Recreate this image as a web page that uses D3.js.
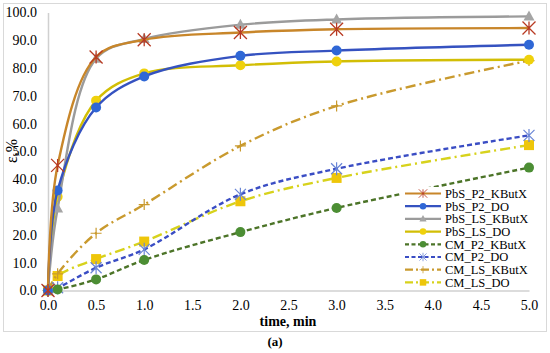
<!DOCTYPE html>
<html>
<head>
<meta charset="utf-8">
<script src="https://cdn.jsdelivr.net/npm/d3@7"></script>
<style>
  body { margin: 0; background: #fff; }
</style>
</head>
<body>
<svg width="550" height="353"></svg>
<script>
// time points, min
var times = [0, 0.1, 0.5, 1, 2, 3, 5];

// recovery values, %
var pbsP2KButX = [0, 45, 84, 90.2, 92.8, 94, 94.4];
var pbsP2DO    = [0, 36, 65.8, 77, 84.4, 86.3, 88.4];
var pbsLSKButX = [0, 29.5, 83.4, 90.5, 95.6, 97.5, 98.6];
var pbsLSDO    = [0, 33.7, 68.3, 78.1, 81, 82.4, 83];
var cmP2KButX  = [0, 0.4, 4, 11, 21, 29.7, 44.2];
var cmP2DO     = [0, 1, 8.2, 14.8, 34.6, 43.8, 55.8];
var cmLSKButX  = [0, 6, 20.6, 30.9, 52, 66.4, 82.7];
var cmLSDO     = [0, 5.2, 11.3, 17.6, 32.1, 40.5, 52.3];

var seriesNames = ["PbS_P2_KButX", "PbS_P2_DO", "PbS_LS_KButX", "PbS_LS_DO",
                   "CM_P2_KButX", "CM_P2_DO", "CM_LS_KButX", "CM_LS_DO"];

var xTicks = [0, 0.5, 1, 1.5, 2, 2.5, 3, 3.5, 4, 4.5, 5];
var yTicks = [0, 10, 20, 30, 40, 50, 60, 70, 80, 90, 100];

var serif = "Liberation Serif";

// styles for each series
var styles = [
  { values: pbsP2KButX, line: "#C8862A", dash: null, marker: "asterisk", mcol: "#B83A22" },
  { values: pbsP2DO,    line: "#3552C0", dash: null, marker: "circle",   mcol: "#2F67D6" },
  { values: pbsLSKButX, line: "#9B9B9B", dash: null, marker: "triangle", mcol: "#A5A5A5" },
  { values: pbsLSDO,    line: "#D2BE05", dash: null, marker: "circle",   mcol: "#EFD10C" },
  { values: cmP2KButX,  line: "#4C7428", dash: "5,3", marker: "circle",  mcol: "#4C8E34" },
  { values: cmP2DO,     line: "#3A4DC4", dash: "5,3", marker: "star",    mcol: "#6A86D6" },
  { values: cmLSKButX,  line: "#C99A2E", dash: "10,4,2,4", marker: "plus", mcol: "#C99A2E" },
  { values: cmLSDO,     line: "#D7D21C", dash: "10,4,2,4", marker: "square", mcol: "#EEC60A" }
];

var svg = d3.select("svg").attr("font-family", serif);

// outer frame
svg.append("rect")
  .attr("x", 3.5).attr("y", 3.5)
  .attr("width", 543).attr("height", 328)
  .attr("fill", "#fff")
  .attr("stroke", "#D9D9D9");

var margin = { left: 48, right: 529, top: 12.5, bottom: 290.5 };

var x = d3.scaleLinear().domain([0, 5]).range([margin.left, margin.right]);
var y = d3.scaleLinear().domain([0, 100]).range([margin.bottom, margin.top]);

// axes
var xAxis = d3.axisBottom(x).tickValues(xTicks).tickSize(0).tickPadding(10)
  .tickFormat(d3.format(".1f"));
var yAxis = d3.axisLeft(y).tickValues(yTicks).tickSize(0).tickPadding(11)
  .tickFormat(d3.format(".1f"));

var gx = svg.append("g")
  .attr("transform", "translate(0," + margin.bottom + ")")
  .call(xAxis);
var gy = svg.append("g")
  .attr("transform", "translate(" + margin.left + ",0)")
  .call(yAxis);

[gx, gy].forEach(function (g) {
  g.attr("font-family", serif).attr("font-size", 14);
  g.select(".domain").attr("stroke", "#D0D0D0").attr("stroke-width", 1.5);
  g.selectAll("text").attr("fill", "#000");
});

// axis titles
svg.append("text")
  .attr("x", 288)
  .attr("y", 326)
  .attr("text-anchor", "middle")
  .attr("font-size", 14)
  .attr("font-weight", "bold")
  .text("time, min");

svg.append("text")
  .attr("transform", "translate(17,151) rotate(-90)")
  .attr("text-anchor", "middle")
  .attr("font-size", 16)
  .text("ε,%");

svg.append("text")
  .attr("x", 275)
  .attr("y", 346)
  .attr("text-anchor", "middle")
  .attr("font-size", 13)
  .attr("font-weight", "bold")
  .text("(a)");

var line = d3.line()
  .x(function (d) { return x(d[0]); })
  .y(function (d) { return y(d[1]); })
  .curve(d3.curveCatmullRom.alpha(0.5));

function drawMarker(g, type, col, cx, cy) {
  if (type === "circle") {
    g.append("circle").attr("cx", cx).attr("cy", cy).attr("r", 5).attr("fill", col);
  } else if (type === "square") {
    g.append("rect").attr("x", cx - 5).attr("y", cy - 5)
      .attr("width", 10).attr("height", 10).attr("fill", col);
  } else if (type === "triangle") {
    g.append("path")
      .attr("d", "M" + cx + "," + (cy - 6) + "L" + (cx + 5.5) + "," + (cy + 4) + "L" + (cx - 5.5) + "," + (cy + 4) + "Z")
      .attr("fill", col);
  } else if (type === "asterisk") {
    var r = 6.5;
    g.append("path")
      .attr("d", "M" + (cx - r) + "," + (cy - r) + "L" + (cx + r) + "," + (cy + r) +
        "M" + (cx - r) + "," + (cy + r) + "L" + (cx + r) + "," + (cy - r) +
        "M" + cx + "," + (cy - r) + "L" + cx + "," + (cy + r))
      .attr("stroke", col).attr("stroke-width", 1.3).attr("fill", "none");
  } else if (type === "star") {
    var s = 5.5;
    g.append("path")
      .attr("d", "M" + (cx - s) + "," + (cy - s) + "L" + (cx + s) + "," + (cy + s) +
        "M" + (cx - s) + "," + (cy + s) + "L" + (cx + s) + "," + (cy - s) +
        "M" + cx + "," + (cy - s - 1) + "L" + cx + "," + (cy + s + 1))
      .attr("stroke", col).attr("stroke-width", 1.2).attr("fill", "none");
  } else if (type === "plus") {
    var p = 5.5;
    g.append("path")
      .attr("d", "M" + (cx - p) + "," + cy + "L" + (cx + p) + "," + cy +
        "M" + cx + "," + (cy - p) + "L" + cx + "," + (cy + p))
      .attr("stroke", col).attr("stroke-width", 1.2).attr("fill", "none");
  }
}

// draw series: lines first (back to front), then markers
styles.slice().reverse().forEach(function (s) {
  var pts = times.map(function (t, i) { return [t, s.values[i]]; });
  var g = svg.append("g");
  g.append("path")
    .attr("d", line(pts))
    .attr("fill", "none")
    .attr("stroke", s.line)
    .attr("stroke-width", 2.4)
    .attr("stroke-dasharray", s.dash);
  pts.forEach(function (p) {
    drawMarker(g, s.marker, s.mcol, x(p[0]), y(p[1]));
  });
});

// legend
var legend = svg.append("g");
legend.append("rect")
  .attr("x", 401).attr("y", 187)
  .attr("width", 140).attr("height", 101)
  .attr("fill", "#fff");

seriesNames.forEach(function (name, i) {
  var s = styles[i];
  var ly = 193.5 + i * 12.7;
  legend.append("line")
    .attr("x1", 405).attr("x2", 441)
    .attr("y1", ly).attr("y2", ly)
    .attr("stroke", s.line)
    .attr("stroke-width", 2.2)
    .attr("stroke-dasharray", s.dash ? (s.dash === "5,3" ? "4,2.5" : "8,3,2,3") : null);
  var mg = legend.append("g").attr("transform", "translate(423," + ly + ") scale(0.65) translate(-423," + (-ly) + ")");
  drawMarker(mg, s.marker, s.mcol, 423, ly);
  legend.append("text")
    .attr("x", 445)
    .attr("y", ly + 4.3)
    .attr("font-size", 12.5)
    .text(name);
});
</script>
</body>
</html>
